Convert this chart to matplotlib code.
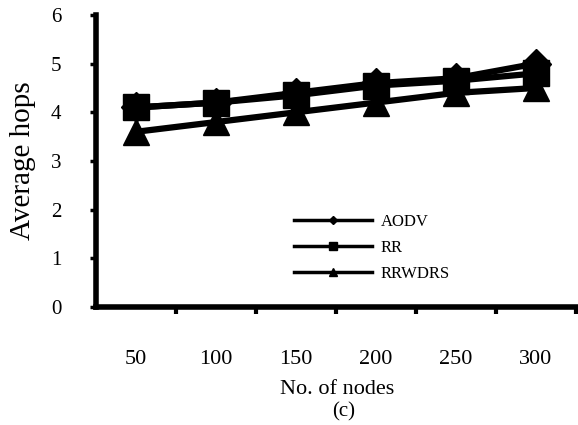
import numpy as np
import matplotlib.pyplot as plt
from matplotlib.lines import Line2D

nodes = ["50", "100", "150", "200", "250", "300"]
aodv = [4.1, 4.2, 4.4, 4.6, 4.7, 5.0]
rr = [4.1, 4.2, 4.35, 4.55, 4.65, 4.8]
rrwdrs = [3.6, 3.8, 4.0, 4.2, 4.4, 4.5]

plt.rcParams["font.family"] = ["Liberation Serif", "DejaVu Serif"]

fig = plt.figure(figsize=(5.78, 4.25), dpi=100)
ax = fig.add_axes([96 / 578, 1 - 307 / 425, 482 / 578, 292 / 425])

x = np.arange(len(nodes))
ax.plot(x, rrwdrs, color="black", lw=4.5, marker="^", ms=19, zorder=3)
ax.plot(x, rr, color="black", lw=4.5, marker="s", ms=19, zorder=4)
ax.plot(x, aodv, color="black", lw=4.5, marker="D", ms=15, zorder=5)

ax.set_xlim(-0.5, 5.53)
ax.set_ylim(0, 6)
ax.set_yticks(range(0, 7))
ax.tick_params(axis="y", direction="out", length=4, width=2.5, pad=21, labelsize=15)

ax.set_xticks(np.arange(0.5, 6, 1))
ax.set_xticklabels([])
ax.tick_params(axis="x", which="major", direction="out", length=5, width=3)
ax.set_xticks(x, minor=True)
ax.set_xticklabels(nodes, minor=True)
ax.tick_params(axis="x", which="minor", length=0, pad=31, labelsize=16)

for side in ["top", "right"]:
    ax.spines[side].set_visible(False)
ax.spines["left"].set_linewidth(4)
ax.spines["bottom"].set_linewidth(4)

ax.set_ylabel("Average hops", fontsize=21, labelpad=11)
ax.set_xlabel("No. of nodes", fontsize=16, labelpad=8)
fig.text(344 / 578, 1 - 412 / 425, "(c)", ha="center", va="center", fontsize=15)

handles = [
    Line2D([], [], color="black", lw=2.5, marker="D", ms=4),
    Line2D([], [], color="black", lw=2.5, marker="s", ms=6),
    Line2D([], [], color="black", lw=2.5, marker="^", ms=6),
]
ax.legend(handles, ["AODV", "RR", "RRWDRS"], loc="upper left",
          bbox_to_anchor=(0.38, 0.37), frameon=False, fontsize=12,
          handlelength=4.7, labelspacing=0.6, handletextpad=0.5)

fig.savefig("out.png", dpi=100)
